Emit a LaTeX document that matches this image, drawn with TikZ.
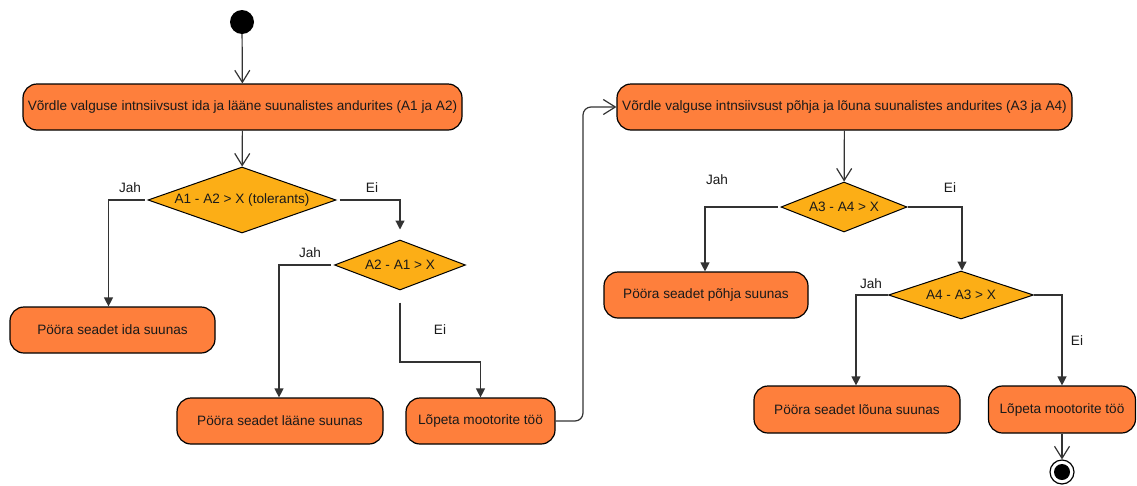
\documentclass[tikz,border=0pt]{standalone}
\usepackage{fontspec}
\setmainfont{Liberation Sans}
\usetikzlibrary{arrows.meta,shapes.geometric}
\definecolor{boxfill}{HTML}{FE7F3C}
\definecolor{decfill}{HTML}{FCAE16}
\definecolor{linec}{HTML}{333333}
\definecolor{txtc}{HTML}{1A1A1A}
\begin{document}
\begin{tikzpicture}[x=1pt,y=-1pt,
  act/.style={draw=black, line width=1.2pt, fill=boxfill, rounded corners=14pt,
    inner sep=0pt, text=txtc, font=\fontsize{13.6}{15}\selectfont},
  dec/.style={draw=black, line width=1pt, fill=decfill, diamond, inner sep=0pt,
    text=txtc, font=\fontsize{13.6}{15}\selectfont},
  lbl/.style={text=txtc, font=\fontsize{13.6}{15}\selectfont, inner sep=0pt},
  conn/.style={draw=linec, line width=1.2pt},
  openarr/.style={conn, -{Straight Barb[length=12pt,width=15pt,line width=1.2pt]}},
  fillarr/.style={conn, -{Triangle[length=9pt,width=9pt]}},
  startnode/.style={circle, fill=black, minimum size=24pt, inner sep=0pt},
  endnode/.style={circle, draw=black, line width=1.2pt, fill=white, minimum size=24pt, inner sep=0pt,
    path picture={\fill[black] (path picture bounding box.center) circle (8pt);}}
]
\useasboundingbox (0,0) rectangle (1137,485);

% nodes
\node[startnode] (start) at (242,22) {};
\node[act, minimum width=439pt, minimum height=46pt] (b1) at (242.5,107) {Võrdle valguse intnsiivsust ida ja lääne suunalistes andurites (A1 ja A2)};
\node[dec, minimum width=188pt, minimum height=66pt, shape aspect=2.85] (d1) at (242,200) {A1 - A2 > X (tolerants)};
\node[act, minimum width=205pt, minimum height=46pt] (ida) at (112.5,330) {Pööra seadet ida suunas};
\node[dec, minimum width=131pt, minimum height=50pt, shape aspect=2.62] (d2) at (400,265) {A2 - A1 > X};
\node[act, minimum width=206pt, minimum height=46pt] (laane) at (280,421) {Pööra seadet lääne suunas};
\node[act, minimum width=149pt, minimum height=46pt] (lop1) at (480.5,421) {Lõpeta mootorite töö};
\node[act, minimum width=455pt, minimum height=46pt] (b2) at (844.5,107) {Võrdle valguse intnsiivsust põhja ja lõuna suunalistes andurites (A3 ja A4)};
\node[dec, minimum width=126pt, minimum height=50pt, shape aspect=2.52] (d3) at (844,207) {A3 - A4 > X};
\node[act, minimum width=204pt, minimum height=46pt] (pohja) at (706,295) {Pööra seadet põhja suunas};
\node[dec, minimum width=145pt, minimum height=48pt, shape aspect=3.0] (d4) at (961,295) {A4 - A3 > X};
\node[act, minimum width=206pt, minimum height=47pt] (louna) at (857,409.5) {Pööra seadet lõuna suunas};
\node[act, minimum width=147pt, minimum height=47pt] (lop2) at (1062,409.5) {Lõpeta mootorite töö};
\node[endnode] (end) at (1062,472) {};

% labels
\node[lbl] (l1) at (130,188) {Jah};
\node[lbl] (l2) at (372,188) {Ei};
\node[lbl] (l3) at (310,253) {Jah};
\node[lbl] (l4) at (440,330) {Ei};
\node[lbl] (l5) at (717,180) {Jah};
\node[lbl] (l6) at (950,188) {Ei};
\node[lbl] (l7) at (871,284) {Jah};
\node[lbl] (l8) at (1077,341) {Ei};

% helper coordinates
\coordinate (k1) at (400,362);
\coordinate (k2) at (583,0);

% connectors
\draw[openarr] (start) -- (b1);
\draw[openarr] (b1) -- (d1);
\draw[fillarr, shorten <=3pt] (d1.west) -| ([xshift=-4pt]ida.north);
\draw[fillarr, shorten <=3pt, shorten >=10pt] (d1.east) -| (d2.north);
\draw[fillarr, shorten <=3pt] (d2.west) -| ([xshift=-1pt]laane.north);
\draw[fillarr, shorten <=12pt] (d2.south) -- (k1) -| (lop1.north);
\draw[openarr, rounded corners=8pt] (lop1.east) -- (lop1.east -| k2) -- (k2 |- b2.west) -- (b2.west);
\draw[openarr] (b2) -- (d3);
\draw[fillarr, shorten <=3pt] (d3.west) -| ([xshift=-1pt]pohja.north);
\draw[fillarr] (d3.east) -| ([xshift=1pt]d4.north);
\draw[fillarr] (d4.west) -| ([xshift=-1pt]louna.north);
\draw[fillarr] (d4.east) -| (lop2.north);
\draw[openarr] (lop2) -- (end);
\end{tikzpicture}
\end{document}
